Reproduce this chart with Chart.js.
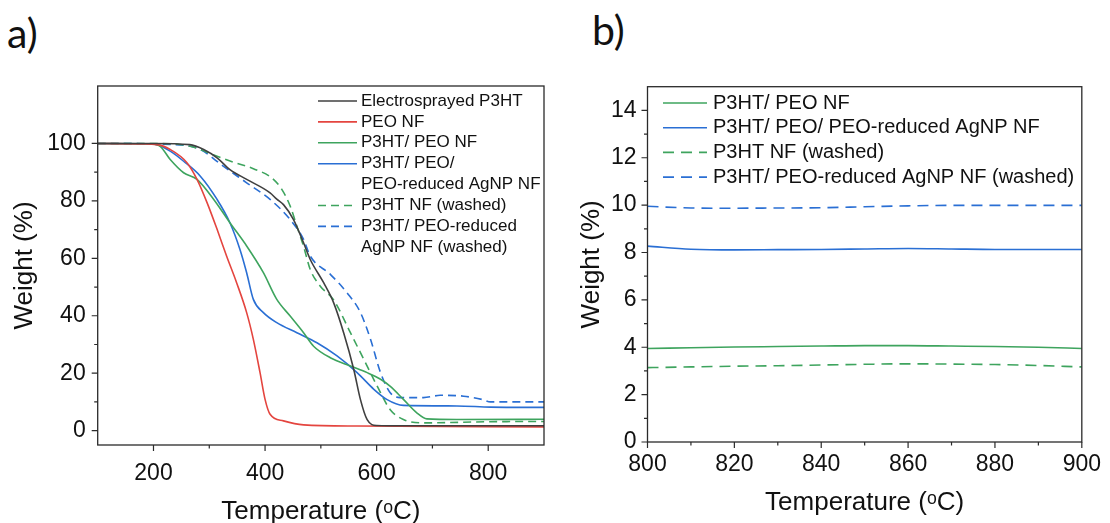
<!DOCTYPE html>
<html>
<head>
<meta charset="utf-8">
<script src="https://cdn.jsdelivr.net/npm/chart.js@4.4.1/dist/chart.umd.min.js"></script>
<style>
html,body{margin:0;padding:0;background:#fff;width:1110px;height:523px;overflow:hidden}
#wa{position:absolute;left:0;top:0;width:560px;height:523px}
#wb{position:absolute;left:560px;top:0;width:550px;height:523px}
.plab{position:absolute;font-family:Lato,"Open Sans",sans-serif;font-size:41px;color:#111;line-height:1}
</style>
</head>
<body>
<div class="plab" style="left:7px;top:12px">a)</div>
<div class="plab" style="left:592px;top:9px">b)</div>
<div id="wa"><canvas id="ca" width="560" height="523"></canvas></div>
<div id="wb"><canvas id="cb" width="550" height="523"></canvas></div>
<script>
// ---------- Panel a data (Temperature °C, Weight %) ----------
const tBlack = [100, 200, 265, 290, 314, 337, 367, 409, 421, 433, 451, 469, 481, 505, 523, 541, 559, 571, 583, 600, 650, 900];
const wBlack = [100, 100, 99.6, 97.9, 95.0, 90.9, 87.5, 82.8, 80.6, 78.7, 73.5, 65.4, 59.6, 51.5, 44.5, 34, 21.3, 10.8, 3.8, 1.8, 1.7, 1.7];

const tRed = [100, 180, 206, 230, 260, 278, 296, 314, 331, 349, 367, 379, 391, 400, 409, 433, 469, 565, 900];
const wRed = [100, 99.8, 99.6, 97.9, 93.3, 87.5, 79.4, 70.1, 60.8, 51.5, 41.1, 31.8, 20.2, 10.9, 5.7, 3.4, 2.0, 1.6, 1.3];

const tGreen = [100, 194, 212, 230, 254, 278, 308, 337, 367, 397, 421, 445, 469, 487, 517, 553, 583, 607, 624, 648, 672, 690, 744, 900];
const wGreen = [100, 99.9, 99.0, 94.4, 89.8, 87.5, 80.5, 72.4, 64.3, 55, 45.7, 39.9, 34.1, 29.4, 25.4, 22.5, 20.2, 17.9, 15.5, 10.9, 6.2, 4.1, 3.9, 3.95];

const tBlue = [100, 180, 206, 230, 254, 284, 314, 337, 355, 367, 379, 397, 421, 457, 493, 529, 565, 595, 618, 648, 744, 804, 900];
const wBlue = [100, 99.9, 99.6, 97.3, 93.8, 88.6, 80.5, 72.4, 63.1, 55, 45.7, 41.1, 37.6, 34.1, 30.6, 26, 20.2, 14.4, 10.9, 8.8, 8.6, 8.2, 8.1];

const tGreenW = [100, 206, 266, 314, 343, 379, 412, 430, 445, 457, 469, 481, 499, 523, 553, 577, 601, 624, 648, 684, 800, 900];
const wGreenW = [100, 100, 99.0, 95.5, 93.5, 91.2, 88, 84, 78.2, 71.2, 64.2, 56.1, 50.3, 45.5, 34.1, 24.8, 15.5, 7.4, 3.9, 2.7, 3.1, 3.2];

const tBlueW = [100, 206, 266, 284, 325, 367, 409, 445, 469, 481, 517, 547, 571, 589, 607, 624, 642, 684, 714, 756, 790, 804, 900];
const wBlueW = [100, 99.8, 99, 97.9, 92.1, 86.3, 80.5, 73.5, 66.6, 60.8, 54.4, 48, 41.1, 31.8, 20.2, 13.3, 11.5, 11.5, 12.3, 12, 10.8, 10, 10];

const legendA = [
  ['Electrosprayed P3HT'],
  ['PEO NF'],
  ['P3HT/ PEO NF'],
  ['P3HT/ PEO/', 'PEO-reduced AgNP NF'],
  ['P3HT NF (washed)'],
  ['P3HT/ PEO-reduced', 'AgNP NF (washed)']
];
const xMajorA = [200, 400, 600, 800];
const xMinorA = [300, 500, 700];
const yMajorA = [0, 20, 40, 60, 80, 100];
const yMinorA = [10, 30, 50, 70, 90];

// ---------- Panel b data ----------
const tB = [800, 810, 820, 830, 840, 850, 860, 870, 880, 890, 900];
const wGreenB  = [3.95, 3.98, 4.01, 4.03, 4.05, 4.07, 4.07, 4.05, 4.03, 4.0, 3.95];
const wBlueB   = [8.27, 8.14, 8.11, 8.12, 8.13, 8.15, 8.17, 8.15, 8.13, 8.13, 8.13];
const wGreenWB = [3.14, 3.17, 3.2, 3.22, 3.25, 3.28, 3.3, 3.29, 3.27, 3.23, 3.17];
const wBlueWB  = [9.95, 9.88, 9.87, 9.88, 9.89, 9.93, 9.97, 9.99, 9.99, 9.99, 9.99];
const legendB = [
  ['P3HT/ PEO NF'],
  ['P3HT/ PEO/ PEO-reduced AgNP NF'],
  ['P3HT NF (washed)'],
  ['P3HT/ PEO-reduced AgNP NF (washed)']
];
const xMajorB = [800, 820, 840, 860, 880, 900];
const xMinorB = [810, 830, 850, 870, 890];
const yMajorB = [0, 2, 4, 6, 8, 10, 12, 14];
const yMinorB = [1, 3, 5, 7, 9, 11, 13];

// ---------- styling ----------
const C_BLACK = '#404040', C_RED = '#e4453f', C_GREEN = '#3ea45e', C_BLUE = '#2a6fd4';
const FONT = '"Liberation Sans", Arial, "DejaVu Sans", sans-serif';
const TXT = '#111111';

const pts = (xs, ys) => xs.map((x, i) => ({x: x, y: ys[i]}));
function ds(xs, ys, color, dash, legendLines) {
  return {data: pts(xs, ys), borderColor: color, backgroundColor: color, borderDash: dash,
          showLine: true, pointRadius: 0, borderWidth: 1.6, cubicInterpolationMode: 'monotone',
          fill: false, legendLines: legendLines};
}

const framePlugin = {
  id: 'frame',
  afterDraw(chart, args, o) {
    const {ctx, chartArea: a, scales: {x, y}} = chart;
    ctx.save();
    ctx.strokeStyle = '#2a2a2a';
    ctx.lineWidth = 1.3;
    ctx.strokeRect(a.left, a.top, a.right - a.left, a.bottom - a.top);
    ctx.lineWidth = 1.2;
    ctx.beginPath();
    const xt = (vals, len) => vals.forEach(v => { const p = x.getPixelForValue(v); ctx.moveTo(p, a.bottom); ctx.lineTo(p, a.bottom + len); });
    const yt = (vals, len) => vals.forEach(v => { const p = y.getPixelForValue(v); ctx.moveTo(a.left, p); ctx.lineTo(a.left - len, p); });
    xt(o.xMajor, o.major); xt(o.xMinor, o.minor);
    yt(o.yMajor, o.major); yt(o.yMinor, o.minor);
    ctx.stroke();
    // legend
    const L = o.legend;
    ctx.font = L.size + 'px ' + FONT;
    ctx.textBaseline = 'middle';
    ctx.textAlign = 'left';
    let row = 0;
    chart.data.datasets.forEach(d => {
      const yy = L.y0 + row * L.dy;
      ctx.beginPath();
      ctx.strokeStyle = d.borderColor;
      ctx.lineWidth = 1.6;
      ctx.setLineDash(d.borderDash || []);
      ctx.moveTo(L.x0, yy); ctx.lineTo(L.x1, yy);
      ctx.stroke();
      ctx.setLineDash([]);
      ctx.fillStyle = TXT;
      d.legendLines.forEach((s, i) => ctx.fillText(s, L.tx, yy + i * L.dy));
      row += d.legendLines.length;
    });
    ctx.restore();
  }
};

function axisCfg(min, max, majors, fitProp, fitVal, pad, titleText, titlePad, fontSize) {
  return {
    type: 'linear', min: min, max: max,
    grid: {display: false, drawTicks: false},
    border: {display: false},
    afterBuildTicks: s => { s.ticks = majors.map(v => ({value: v})); },
    afterFit: s => { s[fitProp] = fitVal; },
    ticks: {padding: pad, color: TXT, autoSkip: false, maxRotation: 0, font: {family: FONT, size: fontSize}},
    title: {display: true, text: titleText, color: TXT, padding: titlePad, font: {family: FONT, size: 26}}
  };
}

// ---------- Chart a ----------
new Chart(document.getElementById('ca'), {
  type: 'scatter',
  data: {datasets: [
    ds(tBlack, wBlack, C_BLACK, [], legendA[0]),
    ds(tRed, wRed, C_RED, [], legendA[1]),
    ds(tGreen, wGreen, C_GREEN, [], legendA[2]),
    ds(tBlue, wBlue, C_BLUE, [], legendA[3]),
    ds(tGreenW, wGreenW, C_GREEN, [8, 5], legendA[4]),
    ds(tBlueW, wBlueW, C_BLUE, [8, 5], legendA[5])
  ]},
  options: {
    responsive: false, animation: false, devicePixelRatio: 1,
    layout: {padding: {top: 86, right: 16, left: 0, bottom: 0}},
    plugins: {
      legend: {display: false}, tooltip: {enabled: false},
      frame: {xMajor: xMajorA, xMinor: xMinorA, yMajor: yMajorA, yMinor: yMinorA, major: 6, minor: 3.5,
              legend: {x0: 318, x1: 357, tx: 361, y0: 101, dy: 20.9, size: 17}}
    },
    scales: {
      x: axisCfg(100, 900, xMajorA, 'height', 78, 15, 'Temperature (ᵒC)', {top: 0, bottom: -4}, 23),
      y: axisCfg(-5, 120, yMajorA, 'width', 97.7, 12, 'Weight (%)', {top: 9, bottom: 0}, 23)
    }
  },
  plugins: [framePlugin]
});

// ---------- Chart b ----------
new Chart(document.getElementById('cb'), {
  type: 'scatter',
  data: {datasets: [
    ds(tB, wGreenB, C_GREEN, [], legendB[0]),
    ds(tB, wBlueB, C_BLUE, [], legendB[1]),
    ds(tB, wGreenWB, C_GREEN, [11, 7], legendB[2]),
    ds(tB, wBlueWB, C_BLUE, [11, 7], legendB[3])
  ]},
  options: {
    responsive: false, animation: false, devicePixelRatio: 1,
    layout: {padding: {top: 86.7, right: 21, left: 0, bottom: 0}},
    plugins: {
      legend: {display: false}, tooltip: {enabled: false},
      frame: {xMajor: xMajorB, xMinor: xMinorB, yMajor: yMajorB, yMinor: yMinorB, major: 6, minor: 3.5,
              legend: {x0: 103, x1: 147, tx: 153, y0: 103, dy: 24.7, size: 20}}
    },
    scales: {
      x: axisCfg(800, 900, xMajorB, 'height', 81, 9, 'Temperature (ᵒC)', {top: 0, bottom: 5}, 23),
      y: axisCfg(0, 15, yMajorB, 'width', 87.5, 11, 'Weight (%)', {top: 16, bottom: 0}, 23)
    }
  },
  plugins: [framePlugin]
});
</script>
</body>
</html>
